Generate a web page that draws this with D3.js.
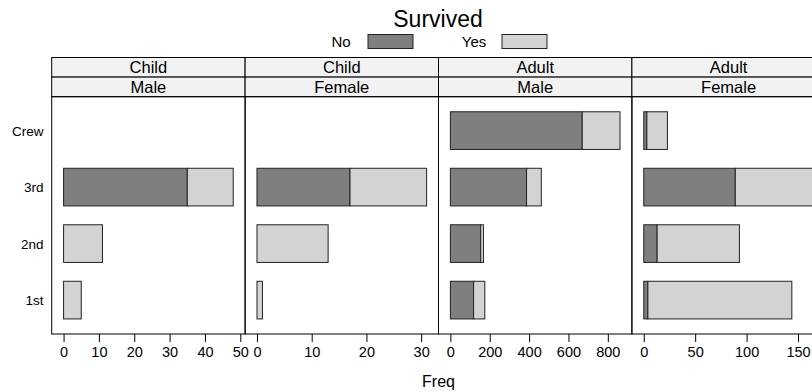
<!DOCTYPE html>
<html>
<head>
<meta charset="utf-8">
<script src="https://cdn.jsdelivr.net/npm/d3@7"></script>
<style>
  body { margin: 0; background: #fff; }
  text { font-family: "Liberation Sans", Arial, sans-serif; fill: #000; }
</style>
</head>
<body>
<svg id="chart" width="812" height="392"></svg>
<script>
// Titanic counts, Freq by Class, panels Age x Sex, stacked by Survived
var classes = ['1st', '2nd', '3rd', 'Crew']
var ages = ['Child', 'Child', 'Adult', 'Adult']
var sexes = ['Male', 'Female', 'Male', 'Female']
var survived = ['No', 'Yes']
var noVals = [[0, 0, 35, 0], [0, 0, 17, 0], [118, 154, 387, 670], [4, 13, 89, 3]]
var yesVals = [[5, 11, 13, 0], [1, 13, 14, 0], [57, 14, 75, 192], [140, 80, 76, 20]]
var tickVals = [[0, 10, 20, 30, 40, 50], [0, 10, 20, 30], [0, 200, 400, 600, 800], [0, 50, 100, 150]]
var fills = ['#7f7f7f', '#d3d3d3']

var svg = d3.select('#chart')

var left = 51.7, panelW = 193.4
var stripTop = 57.5, stripH = 19.6
var panelTop = stripTop + 2 * stripH, panelBottom = 334

var y = d3.scaleLinear().domain([0.4, 4.6]).range([panelBottom, panelTop])
var barH = (y(1) - y(1 + 2 / 3))

// title + legend
svg.append('text').attr('x', 438).attr('y', 27).attr('text-anchor', 'middle')
   .style('font-size', '23px').text('Survived')

var legX = [[341, 368], [474, 502]]
survived.forEach(function (s, i) {
  svg.append('text').attr('x', legX[i][0]).attr('y', 47).attr('text-anchor', 'middle')
     .style('font-size', '15px').text(s)
  svg.append('rect').attr('x', legX[i][1]).attr('y', 34.5).attr('width', 45).attr('height', 14)
     .attr('fill', fills[i]).attr('stroke', '#222').attr('stroke-width', 1)
})

ages.forEach(function (age, p) {
  var x0 = left + p * panelW
  var g = svg.append('g').attr('transform', 'translate(' + x0 + ',0)')

  var totals = noVals[p].map(function (v, i) { return v + yesVals[p][i] })
  var mx = d3.max(totals)
  var x = d3.scaleLinear().domain([-0.07 * mx, 1.07 * mx]).range([0, panelW])

  // strips
  ;[age, sexes[p]].forEach(function (lab, k) {
    g.append('rect').attr('x', 0).attr('y', stripTop + k * stripH)
     .attr('width', panelW).attr('height', stripH)
     .attr('fill', '#f2f2f2').attr('stroke', '#000').attr('stroke-width', 1)
    g.append('text').attr('x', panelW / 2).attr('y', stripTop + k * stripH + stripH / 2 + 6)
     .attr('text-anchor', 'middle').style('font-size', '16.5px').text(lab)
  })

  // stacked bars
  var segs = []
  classes.forEach(function (c, i) {
    var a = noVals[p][i], b = yesVals[p][i]
    if (a > 0) segs.push({ c: i + 1, x0: 0, x1: a, k: 0 })
    if (b > 0) segs.push({ c: i + 1, x0: a, x1: a + b, k: 1 })
  })
  g.selectAll('rect.bar')
   .data(segs)
   .enter()
   .append('rect')
   .attr('class', 'bar')
   .attr('x', d => x(d.x0))
   .attr('width', d => x(d.x1) - x(d.x0))
   .attr('y', d => y(d.c) - barH / 2)
   .attr('height', barH)
   .attr('fill', d => fills[d.k])
   .attr('stroke', '#222')
   .attr('stroke-width', 1)

  // panel frame
  g.append('rect').attr('x', 0).attr('y', panelTop).attr('width', panelW).attr('height', panelBottom - panelTop)
   .attr('fill', 'none').attr('stroke', '#000').attr('stroke-width', 1)

  // bottom axis
  var ax = g.append('g').attr('transform', 'translate(0,' + panelBottom + ')')
            .call(d3.axisBottom(x).tickValues(tickVals[p]).tickSize(8).tickPadding(5))
  ax.select('.domain').remove()
  ax.selectAll('line').attr('stroke', '#000')
  ax.selectAll('text').style('font-size', '14.5px').attr('fill', '#000')
})

// y labels
svg.selectAll('text.ylab')
   .data(classes)
   .enter()
   .append('text')
   .attr('class', 'ylab')
   .attr('x', 43.5)
   .attr('y', (d, i) => y(i + 1) + 5)
   .attr('text-anchor', 'end')
   .style('font-size', '13.5px')
   .text(d => d)

svg.append('text').attr('x', left + 2 * panelW).attr('y', 387).attr('text-anchor', 'middle')
   .style('font-size', '16px').text('Freq')
</script>
</body>
</html>
